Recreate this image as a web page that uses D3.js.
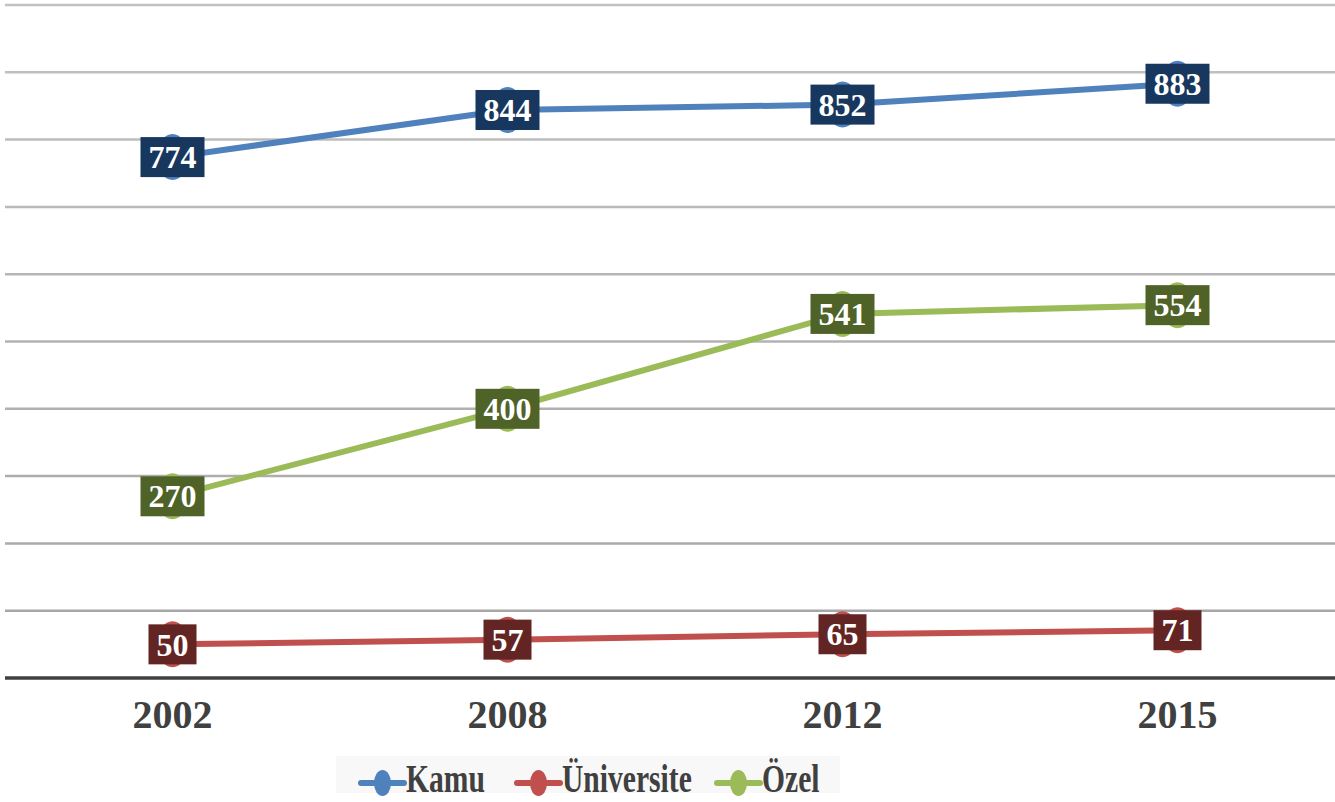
<!DOCTYPE html>
<html>
<head>
<meta charset="utf-8">
<script src="https://cdn.jsdelivr.net/npm/d3@7"></script>
<style>
  body { margin: 0; background: #fff; }
  svg { display: block; }
</style>
</head>
<body>
<svg id="chart" width="1335" height="802"></svg>
<script>
// Veriler
var years = ["2002", "2008", "2012", "2015"];
var kamu = [774, 844, 852, 883];
var universite = [50, 57, 65, 71];
var ozel = [270, 400, 541, 554];
var yTicks = [0, 100, 200, 300, 400, 500, 600, 700, 800, 900, 1000];

var seriesNames = ["Kamu", "Üniversite", "Özel"];
var seriesValues = [kamu, universite, ozel];
var lineColors = ["#4f81bd", "#c0504d", "#9bbb59"];
var boxColors = ["#17375e", "#632523", "#4f6228"];

var svg = d3.select("#chart"),
    left = 5, right = 1335;

var x = d3.scaleBand().domain(years).range([left, 1345]);
var y = d3.scaleLinear().domain([0, 1000]).range([678, 5]);

// Izgara çizgileri
svg.append("g")
  .selectAll("line")
  .data(yTicks.slice(1))
  .enter().append("line")
    .attr("x1", left).attr("x2", right)
    .attr("y1", function(d) { return y(d); })
    .attr("y2", function(d) { return y(d); })
    .attr("stroke", function(d) { return d3.interpolateRgb("#a4a4a4", "#c2c2c2")(d / 1000); })
    .attr("stroke-width", 2.5);

// X ekseni
var xAxis = svg.append("g")
  .attr("transform", "translate(0," + y(0) + ")")
  .call(d3.axisBottom(x).tickSize(0).tickPadding(22));
xAxis.select(".domain").remove();
xAxis.append("line")
  .attr("x1", left).attr("x2", right)
  .attr("stroke", "#404040").attr("stroke-width", 3.5);
xAxis.selectAll("text")
  .attr("font-family", "'Liberation Serif', 'Times New Roman', serif")
  .attr("font-weight", "bold")
  .attr("font-size", 40)
  .attr("fill", "#404040")
  .attr("dy", "0.71em");

var line = d3.line()
  .x(function(d, i) { return x(years[i]) + x.bandwidth() / 2; })
  .y(function(d) { return y(d); });

// Seriler
seriesValues.forEach(function(vals, s) {
  var g = svg.append("g");
  g.append("path")
    .datum(vals)
    .attr("d", line)
    .attr("fill", "none")
    .attr("stroke", lineColors[s])
    .attr("stroke-width", 6);

  g.selectAll("ellipse")
    .data(vals)
    .enter().append("ellipse")
      .attr("cx", function(d, i) { return x(years[i]) + x.bandwidth() / 2; })
      .attr("cy", function(d) { return y(d); })
      .attr("rx", 16).attr("ry", 23)
      .attr("fill", lineColors[s]);

  var lbl = g.selectAll(".lbl")
    .data(vals)
    .enter().append("g")
      .attr("transform", function(d, i) {
        return "translate(" + (x(years[i]) + x.bandwidth() / 2) + "," + y(d) + ")";
      });
  lbl.append("rect")
    .attr("x", function(d) { return -(String(d).length * 16 + 16) / 2; })
    .attr("y", -20)
    .attr("width", function(d) { return String(d).length * 16 + 16; })
    .attr("height", 40)
    .attr("fill", boxColors[s]);
  lbl.append("text")
    .attr("text-anchor", "middle")
    .attr("dy", "0.35em")
    .attr("font-family", "'Liberation Serif', 'Times New Roman', serif")
    .attr("font-weight", "bold")
    .attr("font-size", 32)
    .attr("fill", "#fff")
    .text(function(d) { return d; });
});

// Lejant
svg.append("rect")
  .attr("x", 336).attr("y", 756)
  .attr("width", 504).attr("height", 37)
  .attr("fill", "#f8f8f8");

var legendX = [361, 517, 717];
var legend = svg.append("g")
  .selectAll("g")
  .data(seriesNames)
  .enter().append("g")
    .attr("transform", function(d, i) { return "translate(" + legendX[i] + ",783)"; });
legend.append("line")
  .attr("x1", 0).attr("x2", 43)
  .attr("stroke", function(d, i) { return lineColors[i]; })
  .attr("stroke-width", 6)
  .attr("stroke-linecap", "round");
legend.append("ellipse")
  .attr("cx", 21.5).attr("cy", 0)
  .attr("rx", 8.5).attr("ry", 13)
  .attr("fill", function(d, i) { return lineColors[i]; });
legend.append("text")
  .attr("transform", "translate(45,9) scale(0.74,1)")
  .attr("font-family", "'Liberation Serif', 'Times New Roman', serif")
  .attr("font-weight", "bold")
  .attr("font-size", 40)
  .attr("fill", "#404040")
  .text(function(d) { return d; });
</script>
</body>
</html>
